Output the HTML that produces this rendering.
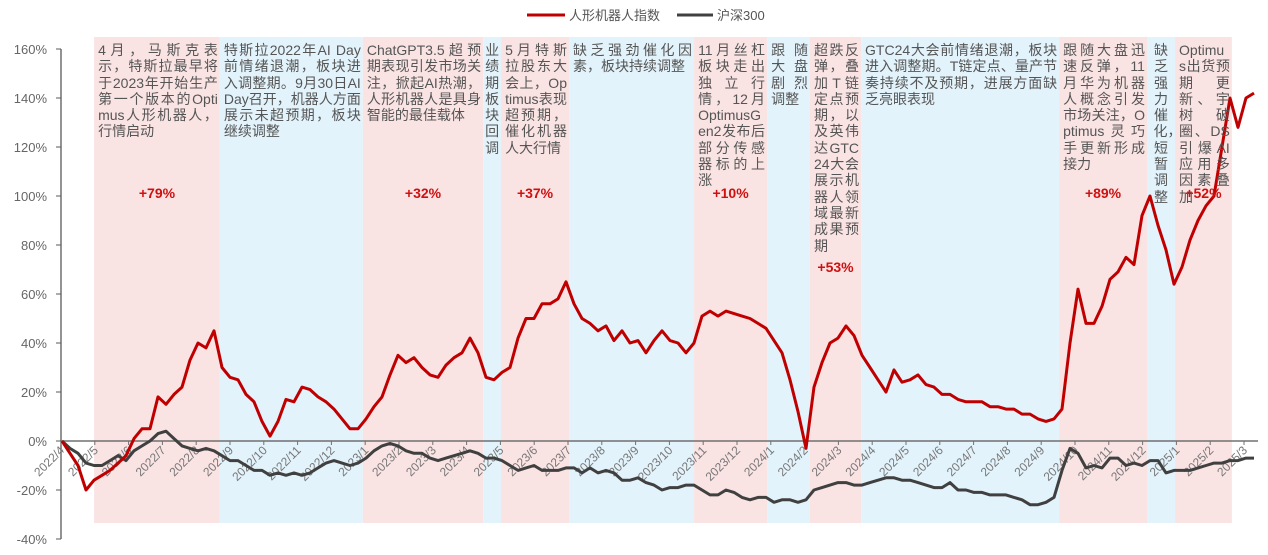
<!DOCTYPE html>
<html><head><meta charset="utf-8">
<style>
html,body{margin:0;padding:0;background:#fff;}
body{width:1268px;height:555px;overflow:hidden;position:relative;font-family:"Liberation Sans","Noto Sans CJK SC",sans-serif;}
svg{position:absolute;left:0;top:0;}
.ann{position:absolute;top:42px;font-size:14px;line-height:16.3px;color:#555;text-align:justify;word-break:break-all;}
.vert{width:15px;text-align:center;}
</style></head>
<body>
<svg id="chart" width="1268" height="555"></svg>
<div id="anns"></div>
<script>
const monthLabels=["2022/4","2022/5","2022/6","2022/7","2022/8","2022/9","2022/10","2022/11","2022/12","2023/1","2023/2","2023/3","2023/4","2023/5","2023/6","2023/7","2023/8","2023/9","2023/10","2023/11","2023/12","2024/1","2024/2","2024/3","2024/4","2024/5","2024/6","2024/7","2024/8","2024/9","2024/10","2024/11","2024/12","2025/1","2025/2","2025/3"];
const yTicks=[160,140,120,100,80,60,40,20,0,-20,-40];
const robotIndex=[0,-5,-10,-20,-16,-14,-12,-9,-6,1,5,5,18,15,19,22,33,40,38,45,30,26,25,19,16,8,2,8,17,16,22,21,18,16,13,9,5,5,9,14,18,27,35,32,34,30,27,26,31,34,36,42,36,26,25,28,30,42,50,50,56,56,58,65,56,50,48,45,47,41,45,40,41,36,41,45,41,40,36,40,51,53,51,53,52,51,50,48,46,41,36,25,12,-3,22,32,40,42,47,43,35,30,25,20,29,24,25,27,23,22,19,19,17,16,16,16,14,14,13,13,11,11,9,8,9,13,40,62,48,48,55,66,69,75,72,92,100,88,78,64,71,82,90,96,100,120,140,128,140,142];
const hs300=[0,-3,-5,-9,-10,-10,-8,-6,-8,-4,-2,0,3,4,1,-2,-3,-4,-3,-4,-6,-8,-8,-10,-12,-12,-14,-13,-14,-13,-14,-13,-11,-9,-8,-9,-10,-9,-7,-4,-2,-1,-2,-4,-5,-5,-7,-8,-7,-6,-5,-4,-5,-7,-7,-8,-10,-12,-11,-10,-12,-12,-12,-11,-11,-13,-11,-13,-12,-13,-16,-16,-15,-17,-18,-20,-19,-19,-18,-18,-20,-22,-22,-20,-21,-23,-24,-23,-23,-25,-24,-24,-25,-24,-20,-19,-18,-17,-17,-18,-18,-17,-16,-15,-15,-16,-16,-17,-18,-19,-19,-17,-20,-20,-21,-21,-22,-22,-22,-23,-24,-26,-26,-25,-23,-12,-3,-5,-11,-10,-11,-7,-7,-10,-9,-10,-8,-8,-13,-12,-12,-12,-11,-10,-9,-9,-8,-8,-7,-7];
const bandStarts=[0.98,4.70,8.93,12.49,13.02,15.03,18.73,20.89,22.16,23.67,29.53,32.13,32.96];
const bandEnds=[4.70,8.93,12.49,13.02,15.03,18.73,20.89,22.16,23.67,29.53,32.13,32.96,34.64];
const bandKinds=["up","down","up","down","up","down","up","down","up","down","up","down","up"];
const bandTexts=["4月，马斯克表示，特斯拉最早将于2023年开始生产第一个版本的Optimus人形机器人，行情启动","特斯拉2022年AI Day前情绪退潮，板块进入调整期。9月30日AI Day召开，机器人方面展示未超预期，板块继续调整","ChatGPT3.5超预期表现引发市场关注，掀起AI热潮，人形机器人是具身智能的最佳载体","业绩期板块回调","5月特斯拉股东大会上，Optimus表现超预期，催化机器人大行情","缺乏强劲催化因素，板块持续调整","11月丝杠板块走出独立行情，12月OptimusGen2发布后部分传感器标的上涨","跟随大盘剧烈调整","超跌反弹，叠加T链定点预期，以及英伟达GTC24大会展示机器人领域最新成果预期","GTC24大会前情绪退潮，板块进入调整期。T链定点、量产节奏持续不及预期，进展方面缺乏亮眼表现","跟随大盘迅速反弹，11月华为机器人概念引发市场关注，Optimus灵巧手更新形成接力","缺乏强力催化，短暂调整","Optimus出货预期更新、宇树破圈、DS引爆AI应用多因素叠加"];
const gainLabels=["+79%","","+32%","","+37%","","+10%","","+53%","","+89%","","+52%"];
const gainY=[193,0,193,0,193,0,193,0,267,0,193,0,193];

const X0=61, MPX=33.8;
const xMonth=m=>X0+m*MPX;
const xIdx=i=>62+i*(1192/(robotIndex.length-1));
const yVal=v=>441-v*2.45;
const NS="http://www.w3.org/2000/svg";
const svg=document.getElementById('chart');
function mk(tag,attrs,parent){const e=document.createElementNS(NS,tag);for(const k in attrs)e.setAttribute(k,attrs[k]);(parent||svg).appendChild(e);return e;}

bandStarts.forEach((s,i)=>{
  const r=mk('rect',{x:xMonth(s),y:37,width:xMonth(bandEnds[i])-xMonth(s),height:486,fill:bandKinds[i]==="up"?"#fae3e3":"#e3f3fb"});
  
  
});
const ya=mk('line',{x1:X0,y1:yVal(160),x2:X0,y2:yVal(-40),stroke:"#595959","stroke-width":1.3});


yTicks.forEach(v=>{
  mk('line',{x1:X0-5,y1:yVal(v),x2:X0,y2:yVal(v),stroke:"#595959","stroke-width":1});
  const t=mk('text',{x:47,y:yVal(v)+5,"text-anchor":"end","font-size":13,fill:"#666"});
  t.textContent=v+"%";
  
  
});
const xa=mk('line',{x1:X0,y1:yVal(0),x2:1258,y2:yVal(0),stroke:"#707070","stroke-width":1.5});


monthLabels.forEach((m,k)=>{
  const x=xMonth(k);
  mk('line',{x1:x,y1:yVal(0),x2:x,y2:yVal(0)+4,stroke:"#707070","stroke-width":1});
  const t=mk('text',{x:x+4,y:yVal(0)+10,"text-anchor":"end","font-size":12,fill:"#777",transform:`rotate(-45 ${x+4} ${yVal(0)+10})`});
  t.textContent=m;
  
  
});
function series(arr,color,name){
  const d=arr.map((v,i)=>(i?"L":"M")+xIdx(i).toFixed(1)+","+yVal(v).toFixed(1)).join("");
  const p=mk('path',{d:d,fill:"none",stroke:color,"stroke-width":3,"stroke-linejoin":"round"});
  
  
}
series(hs300,"#404040","hs300-line");
series(robotIndex,"#c00000","robot-index-line");
const lg=mk('g',{});


mk('line',{x1:527,y1:15,x2:565,y2:15,stroke:"#c00000","stroke-width":3},lg);
const l1=mk('text',{x:569,y:20,"font-size":13,fill:"#555"},lg);l1.textContent="人形机器人指数";


mk('line',{x1:677,y1:15,x2:713,y2:15,stroke:"#404040","stroke-width":3},lg);
const l2=mk('text',{x:717,y:20,"font-size":13,fill:"#555"},lg);l2.textContent="沪深300";


gainLabels.forEach((g,i)=>{
  if(!g)return;
  const cx=(xMonth(bandStarts[i])+xMonth(bandEnds[i]))/2;
  const t=mk('text',{x:cx,y:gainY[i]+5,"text-anchor":"middle","font-size":14,"font-weight":"bold",fill:"#d01010"});
  t.textContent=g;
  
  
});
const anns=document.getElementById('anns');
bandTexts.forEach((txt,i)=>{
  const x0=xMonth(bandStarts[i]), x1=xMonth(bandEnds[i]);
  const w=x1-x0;
  const d=document.createElement('div');
  
  
  d.className='ann';
  if(w<35){d.classList.add('vert');d.style.left=(x0+(w-15)/2)+'px';d.textContent=txt;}
  else{d.style.left=(x0+4)+'px';d.style.width=(w-6)+'px';d.textContent=txt;}
  anns.appendChild(d);
});
</script>
</body></html>
